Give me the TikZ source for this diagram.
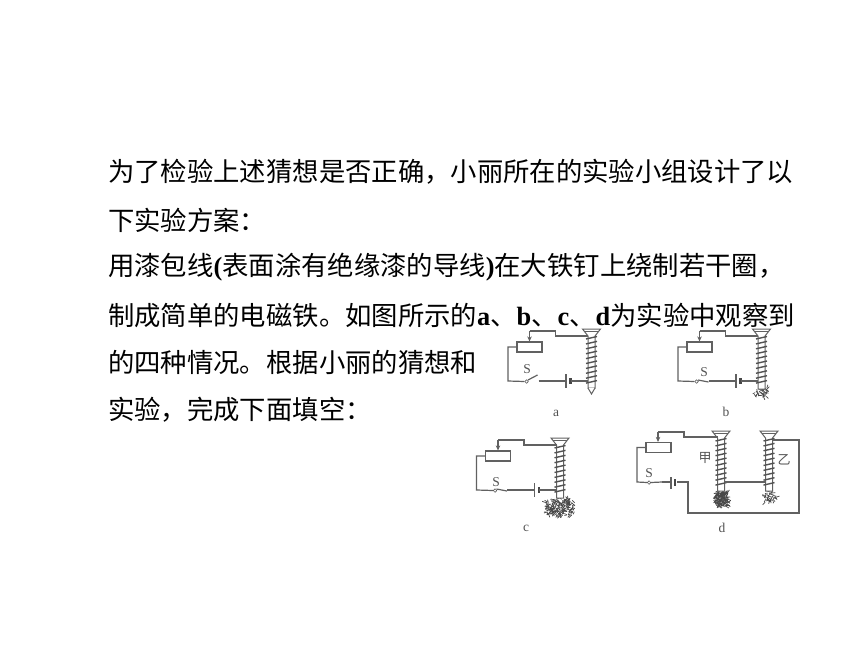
\documentclass[tikz,border=0pt]{standalone}
\usepackage{fontspec}
\usetikzlibrary{arrows.meta}
\setmainfont{Liberation Serif}
\newfontfamily\cjkfont{Noto Sans CJK SC}
\newfontfamily\latbold{Liberation Serif Bold}
\tikzset{
  wire/.style={draw=black!62,line width=1.2pt},
  bodyline/.style={anchor=west,inner sep=0pt,font=\fontsize{26.35}{30}\cjkfont,text=black},
  caption/.style={inner sep=0pt,font=\fontsize{13.5}{14}\selectfont,text=black!68},
  rheostat/.style={draw=black!62,line width=1.2pt,fill=white,minimum width=25pt,minimum height=10pt,inner sep=0pt},
  contact/.style={circle,draw=black!62,line width=0.7pt,fill=white,minimum size=3.5pt,inner sep=0pt},
  screwline/.style={draw=black!62,line width=1pt,fill=white},
  coilline/.style={draw=black!68,line width=1.4pt},
  nail/.style={draw=black!72,line width=0.7pt}
}
\newcommand{\lat}[1]{{\latbold #1}}
\newcommand{\screwbody}[3]{% x, y, shaft length
  \begin{scope}[shift={(#1,#2)}]
    \draw[screwline] (-9,0) -- (9,0) -- (3.5,7) -- (3.5,#3) -- (-3.5,#3) -- (-3.5,7) -- cycle;
    \draw[black!62,line width=1pt] (-7,2) -- (7,2);
    \foreach \t in {0,...,9}{
      \draw[coilline] (-5.5,{10+\t*4.9}) -- (5.5,{7.5+\t*4.9});
    }
  \end{scope}}
\newcommand{\nails}[6]{% seed, cx, cy, rx, ry, count
  \pgfmathsetseed{#1}
  \foreach \i in {1,...,#6}{
    \pgfmathsetmacro{\ax}{#2+#4*rand}
    \pgfmathsetmacro{\ay}{#3+#5*rand}
    \pgfmathsetmacro{\bx}{\ax+4*rand}
    \pgfmathsetmacro{\by}{\ay+4*rand}
    \draw[nail] (\ax,\ay) -- (\bx,\by);
  }}
\newcommand{\singlecircuit}[4]{% name, x, y, blade end
  \begin{scope}[shift={(#2,#3)}]
    \node[rheostat] (#1box) at (-62,18) {};
    \coordinate (#1left) at (-83.5,18);
    \coordinate (#1corner) at (-83.5,52);
    \node[contact] (#1sw) at (-65,52.5) {};
    \coordinate (#1blade) at #4;
    \coordinate (#1wire) at (-53,52);
    \coordinate (#1bat) at (-25.5,52);
    \coordinate (#1batb) at (-21,52);
    \coordinate (#1in) at (-3.5,52);
    \coordinate (#1t1) at (-62,2);
    \coordinate (#1t2) at (-36,2);
    \coordinate (#1t3) at (-36,7);
    \coordinate (#1t4) at (-3.5,7);
    \draw[wire] (#1box.west) -- (#1left) -- (#1corner) -- (#1sw.west);
    \draw[wire] (#1sw.north east) -- (#1blade);
    \draw[wire] (#1wire) -- (#1bat);
    \draw[black!62,line width=1.2pt] (-25.5,45) -- (-25.5,59);
    \draw[black!72,line width=2.2pt] (-21,49) -- (-21,55);
    \draw[wire] (#1batb) -- (#1in);
    \draw[wire,-{Stealth[length=5pt,width=4.5pt]}] (#1t1) -- (#1box.north);
    \draw[wire] (#1t1) -- (#1t2) -- (#1t3) -- (#1t4);
  \end{scope}}
\begin{document}
\begin{tikzpicture}[x=1pt,y=-1pt]
\useasboundingbox (0,0) rectangle (860,645);
\fill[white] (0,0) rectangle (860,645);

\node[bodyline] (l1) at (108,172) {为了检验上述猜想是否正确，小丽所在的实验小组设计了以};
\node[bodyline] (l2) at (108,220) {下实验方案：};
\node[bodyline] (l3) at (108,267) {用漆包线\lat{(}表面涂有绝缘漆的导线\lat{)}在大铁钉上绕制若干圈，};
\node[bodyline] (l4) at (108,315) {制成简单的电磁铁。如图所示的\lat{a}、\lat{b}、\lat{c}、\lat{d}为实验中观察到};
\node[bodyline] (l5) at (108,362) {的四种情况。根据小丽的猜想和};
\node[bodyline] (l6) at (108,410) {实验，完成下面填空：};

% a
\screwbody{591.5}{329}{59}
\draw[screwline] (588,388) -- (591.5,394) -- (595,388);
\singlecircuit{a}{591.5}{329}{(-54,46)}
\node[caption] (Sa) at (527,369) {S};
\node[caption] (la) at (556,413) {a};

% b
\nails{11}{761}{393}{6}{5}{40}
\screwbody{761.5}{329}{60}
\singlecircuit{b}{761.5}{329}{(-53,53)}
\node[caption] (Sb) at (704,372) {S};
\node[caption] (lb) at (726,412) {b};

% c
\nails{23}{560}{507}{14}{8}{190}
\screwbody{560}{438}{60}
\singlecircuit{c}{560}{438}{(-53,53)}
\node[caption] (Sc) at (496,482) {S};
\node[caption] (lc) at (526,528) {c};

% d
\nails{37}{722}{499}{6}{7}{170}
\nails{41}{770}{497}{6}{5}{40}
\screwbody{721}{431}{60}
\screwbody{769}{431}{60}
\node[rheostat] (dbox) at (658.5,447.5) {};
\coordinate (dleft) at (637,447.5);
\coordinate (dcorner) at (637,482);
\node[contact] (dsw) at (649,482.5) {};
\coordinate (dblade) at (662,482);
\coordinate (dbat) at (671,482);
\coordinate (dbatb) at (677,482);
\coordinate (dd1) at (688,482);
\coordinate (dd2) at (688,513);
\coordinate (dd3) at (799,513);
\coordinate (dd4) at (799,440);
\coordinate (dd5) at (773,440);
\coordinate (dt1) at (658,432);
\coordinate (dt2) at (684,432);
\coordinate (dt3) at (684,437);
\coordinate (dt4) at (717.5,437);
\coordinate (dm1) at (724.5,482);
\coordinate (dm2) at (765.5,482);
\draw[wire] (dbox.west) -- (dleft) -- (dcorner) -- (dsw.west);
\draw[wire] (dsw.east) -- (dblade);
\draw[wire] (dblade) -- (dbat);
\draw[black!62,line width=1.2pt] (671,477) -- (671,489);
\draw[black!72,line width=2.2pt] (675,479) -- (675,486);
\draw[wire] (dbatb) -- (dd1) -- (dd2) -- (dd3) -- (dd4) -- (dd5);
\draw[wire,-{Stealth[length=5pt,width=4.5pt]}] (dt1) -- (dt1 |- dbox.north);
\draw[wire] (dt1) -- (dt2) -- (dt3) -- (dt4);
\draw[wire] (dm1) -- (dm2);
\node[caption] (Sd) at (649,473) {S};
\node[caption,font=\fontsize{13}{14}\cjkfont] (jia) at (705,458) {甲};
\node[caption,font=\fontsize{13}{14}\cjkfont] (yi) at (784,460) {乙};
\node[caption] (ld) at (722,528) {d};
\end{tikzpicture}
\end{document}
